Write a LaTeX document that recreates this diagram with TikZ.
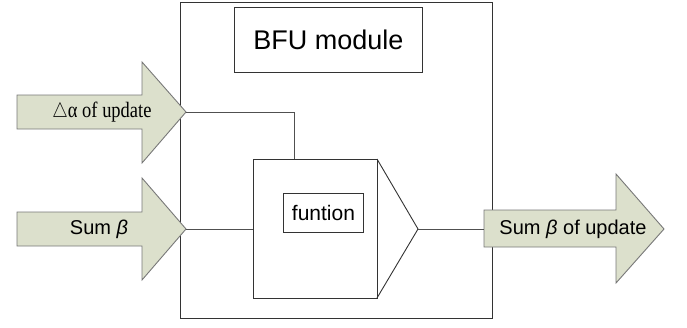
\documentclass[tikz,border=0pt]{standalone}
\usepackage{fontspec}
\setmainfont{Liberation Serif}
\setsansfont{Liberation Sans}
\definecolor{arrowfill}{RGB}{220,224,204}
\definecolor{arrowline}{RGB}{120,120,120}
\definecolor{wire}{RGB}{80,80,80}
\tikzset{
  fatarrow/.style={fill=arrowfill, draw=arrowline, line width=0.9pt, line join=miter},
  box/.style={draw=black!80, line width=0.9pt},
  wireline/.style={draw=wire, line width=0.9pt},
  lbl/.style={inner sep=0pt, font=\sffamily\fontsize{20}{22}\selectfont},
}
\begin{document}
\begin{tikzpicture}[x=1pt,y=-1pt]
\useasboundingbox (0,0) rectangle (687,327);

% outer module frame
\draw[box] (180,2) rectangle (492,318);
\node[box, minimum width=188pt, minimum height=65pt, font=\sffamily\fontsize{27}{29}\selectfont, anchor=north west] (title) at (234,7) {BFU module};

% function block with output wedge
\draw[box] (253,159) rectangle (377,298);
\draw[box] (377,159) -- (418,229) -- (377,298);
\coordinate (fin) at (253,229);
\coordinate (ftop) at (294,159);
\coordinate (fout) at (418,229);
\node[box, minimum width=80pt, minimum height=39pt, inner sep=0pt, font=\sffamily\fontsize{21}{23}\selectfont, anchor=north west] (fn) at (283,193) {funtion};

% input arrow: delta alpha
\draw[fatarrow] (17,95) -- (142,95) -- (142,62) -- (186,112) -- (142,163) -- (142,129) -- (17,129) -- cycle;
\coordinate (tipA) at (186,112);
\node[inner sep=0pt, font=\fontsize{22}{24}\selectfont] (la) at (102,112) {\scalebox{0.84}[1]{$\triangle$α of update}};

% input arrow: sum beta
\draw[fatarrow] (17,212) -- (142,212) -- (142,178) -- (186,229) -- (142,280) -- (142,246) -- (17,246) -- cycle;
\coordinate (tipB) at (186,229);
\node[lbl] (lb) at (99,229) {Sum {\itshape β}};

% output arrow
\draw[fatarrow] (484,210) -- (616,210) -- (616,174) -- (664,229) -- (616,283) -- (616,247) -- (484,247) -- cycle;
\coordinate (outL) at (484,229);
\node[lbl] (lout) at (573,229) {Sum {\itshape β} of update};

% wires
\draw[wireline] (tipA) -| (ftop);
\draw[wireline] (tipB) -- (fin);
\draw[wireline] (fout) -- (outL);
\end{tikzpicture}
\end{document}
